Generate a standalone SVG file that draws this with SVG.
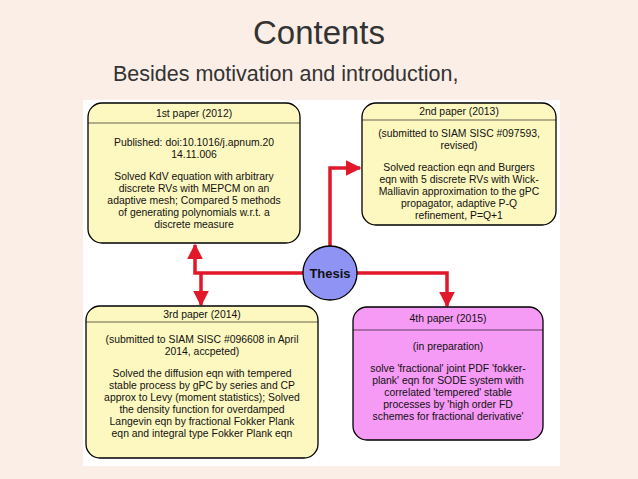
<svg xmlns="http://www.w3.org/2000/svg" width="638" height="479" viewBox="0 0 638 479">
<defs>
<style>
.box{stroke:#000;stroke-width:1.3}
.y{fill:#fdf8c0}
.p{fill:#f59af5}
.t{font-family:"Liberation Sans",Arial,sans-serif;font-size:10.4px;fill:#111;text-anchor:middle}
.c{fill:none;stroke:#e0182a;stroke-width:3.5}
.h{font-family:"Helvetica Neue","Liberation Sans",sans-serif;fill:#333;font-weight:300}
</style>
<marker id="a" viewBox="0 0 10 10" refX="9" refY="5" markerWidth="4.5" markerHeight="4.5" orient="auto" markerUnits="strokeWidth"><path d="M0,0L10,5L0,10z" fill="#e0182a"/></marker>
</defs>
<rect width="638" height="479" fill="#fbeee6"/>
<rect x="83" y="100" width="477" height="366" fill="#fff"/>
<text x="319" y="44" class="h" font-size="33" text-anchor="middle">Contents</text>
<text x="113" y="81" class="h" font-size="21.5">Besides motivation and introduction,</text>
<g id="connectors">
<path class="c" d="M303,273H195V245" marker-end="url(#a)"/>
<path class="c" d="M201,273V305" marker-end="url(#a)"/>
<path class="c" d="M330,246V168H360" marker-end="url(#a)"/>
<path class="c" d="M357,273H447V306" marker-end="url(#a)"/>
</g>
<g id="thesis">
<circle cx="330" cy="273" r="27" fill="#8f94f4" stroke="#000" stroke-width="1.3"/>
<text x="330" y="278" class="t" style="font-size:13px;font-weight:bold">Thesis</text>
</g>
<g id="paper1">
<rect x="88" y="103" width="212" height="140" rx="14" class="box y"/>
<line x1="88" y1="123" x2="300" y2="123" stroke="#000" stroke-width="0.6"/>
<text class="t" x="194" y="117">1st paper  (2012)</text>
<text class="t" x="194" y="146">Published: doi:10.1016/j.apnum.20</text>
<text class="t" x="194" y="158">14.11.006</text>
<text class="t" x="194" y="180">Solved KdV equation with arbitrary</text>
<text class="t" x="194" y="192">discrete RVs with MEPCM on an</text>
<text class="t" x="194" y="204">adaptive mesh; Compared 5 methods</text>
<text class="t" x="194" y="216">of generating polynomials w.r.t. a</text>
<text class="t" x="194" y="228">discrete measure</text>
</g>
<g id="paper2">
<rect x="362" y="103" width="194" height="122" rx="14" class="box y"/>
<line x1="362" y1="120" x2="556" y2="120" stroke="#000" stroke-width="0.6"/>
<text class="t" x="459" y="115">2nd paper (2013)</text>
<text class="t" x="459" y="137">(submitted to SIAM SISC #097593,</text>
<text class="t" x="459" y="149">revised)</text>
<text class="t" x="459" y="171">Solved reaction eqn and Burgers</text>
<text class="t" x="459" y="183">eqn with 5 discrete RVs with Wick-</text>
<text class="t" x="459" y="195">Malliavin approximation to the gPC</text>
<text class="t" x="459" y="207">propagator, adaptive P-Q</text>
<text class="t" x="459" y="219">refinement, P=Q+1</text>
</g>
<g id="paper3">
<rect x="86" y="306" width="232" height="152" rx="14" class="box y"/>
<line x1="86" y1="322" x2="318" y2="322" stroke="#000" stroke-width="0.6"/>
<text class="t" x="202" y="318">3rd paper (2014)</text>
<text class="t" x="202" y="343">(submitted to SIAM SISC #096608 in April</text>
<text class="t" x="202" y="355">2014, accpeted)</text>
<text class="t" x="202" y="377">Solved the diffusion eqn with tempered</text>
<text class="t" x="202" y="389">stable process by gPC by series and CP</text>
<text class="t" x="202" y="401">approx to Levy (moment statistics); Solved</text>
<text class="t" x="202" y="413">the density function for overdamped</text>
<text class="t" x="202" y="425">Langevin eqn by fractional Fokker Plank</text>
<text class="t" x="202" y="437">eqn and integral type Fokker Plank eqn</text>
</g>
<g id="paper4">
<rect x="353" y="307" width="190" height="133" rx="14" class="box p"/>
<line x1="353" y1="330" x2="543" y2="330" stroke="#000" stroke-width="0.6"/>
<text class="t" x="448" y="322">4th paper (2015)</text>
<text class="t" x="448" y="350">(in preparation)</text>
<text class="t" x="448" y="372">solve 'fractional' joint PDF 'fokker-</text>
<text class="t" x="448" y="384">plank' eqn for SODE system with</text>
<text class="t" x="448" y="396">correlated 'tempered' stable</text>
<text class="t" x="448" y="408">processes by 'high order FD</text>
<text class="t" x="448" y="420">schemes for fractional derivative'</text>
</g>
</svg>
